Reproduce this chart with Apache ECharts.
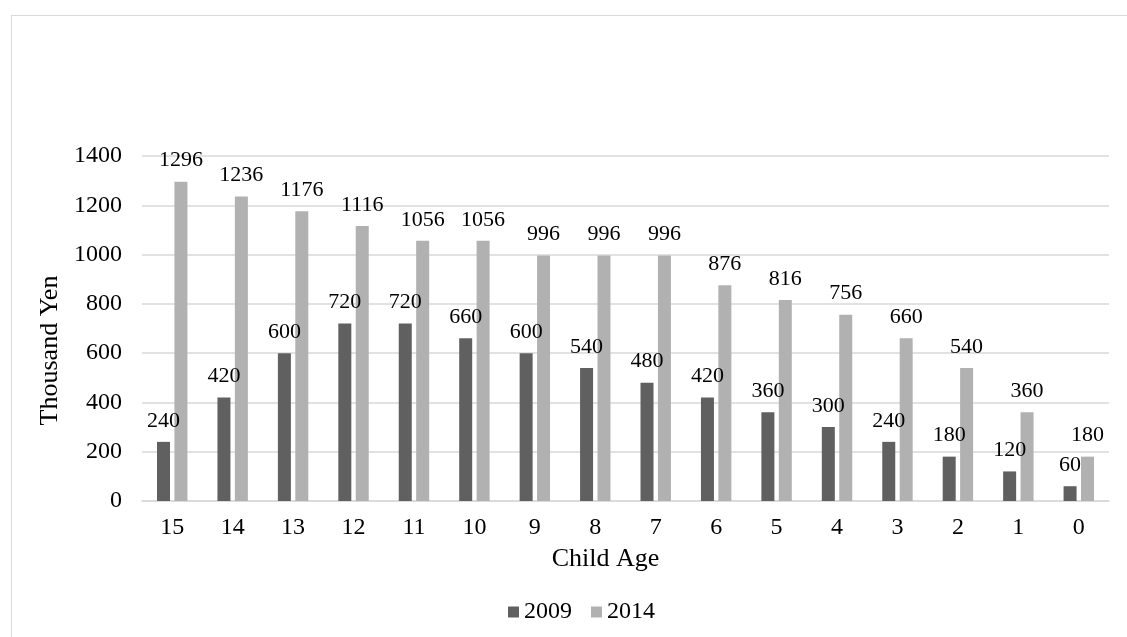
<!DOCTYPE html>
<html>
<head>
<meta charset="utf-8">
<script src="https://cdn.jsdelivr.net/npm/echarts@6/dist/echarts.min.js"></script>
<style>
  html, body { margin: 0; padding: 0; background: #fff; }
  #frame { position: absolute; left: 11px; top: 15px; width: 1130px; height: 640px; border: 1px solid #d9d9d9; box-sizing: border-box; }
  #chart { position: absolute; left: 0; top: 0; width: 1127px; height: 637px; }
</style>
</head>
<body>
<div id="frame"></div>
<div id="chart"></div>
<script>
// Child ages shown from oldest to youngest
const ages = ['15', '14', '13', '12', '11', '10', '9', '8', '7', '6', '5', '4', '3', '2', '1', '0'];
// Cumulative allowance (thousand yen) by year
const values2009 = [240, 420, 600, 720, 720, 660, 600, 540, 480, 420, 360, 300, 240, 180, 120, 60];
const values2014 = [1296, 1236, 1176, 1116, 1056, 1056, 996, 996, 996, 876, 816, 756, 660, 540, 360, 180];
const yTicks = { min: 0, max: 1400, interval: 200 };

const font = '"Liberation Serif", "Times New Roman", serif';
const chart = echarts.init(document.getElementById('chart'), null, { renderer: 'canvas' });

const labelStyle = {
  show: true,
  position: 'top',
  distance: 10,
  fontFamily: font,
  fontSize: 22,
  color: '#000'
};

chart.setOption({
  animation: false,
  textStyle: { fontFamily: font },
  grid: { left: 142, right: 18, top: 156, bottom: 136, containLabel: false },
  legend: {
    data: ['2009', '2014'],
    left: 503,
    top: 595,
    itemWidth: 11,
    itemHeight: 11,
    itemGap: 19,
    icon: 'rect',
    textStyle: { fontFamily: font, fontSize: 24, color: '#000' }
  },
  xAxis: {
    type: 'category',
    data: ages,
    name: 'Child Age',
    nameLocation: 'middle',
    nameGap: 45,
    nameTextStyle: { fontFamily: font, fontSize: 26, color: '#000', padding: [0, 40, 0, 0] },
    axisLine: { lineStyle: { color: '#d9d9d9', width: 1.5 } },
    axisTick: { show: false },
    axisLabel: { fontFamily: font, fontSize: 24, color: '#000', margin: 15 }
  },
  yAxis: {
    type: 'value',
    min: yTicks.min,
    max: yTicks.max,
    interval: yTicks.interval,
    name: 'Thousand Yen',
    nameLocation: 'middle',
    nameGap: 64,
    nameRotate: 90,
    nameTextStyle: { fontFamily: font, fontSize: 26, color: '#000', padding: [0, 44, 0, 0] },
    axisLine: { show: false },
    axisTick: { show: false },
    axisLabel: { fontFamily: font, fontSize: 24, color: '#000', margin: 20, formatter: (v) => String(v) },
    splitLine: { lineStyle: { color: '#d9d9d9', width: 1.5 } }
  },
  series: [
    {
      name: '2009',
      type: 'bar',
      data: values2009,
      barWidth: 13,
      barGap: '34%',
      itemStyle: { color: '#606060' },
      label: labelStyle
    },
    {
      name: '2014',
      type: 'bar',
      data: values2014,
      barWidth: 13,
      itemStyle: { color: '#b1b1b1' },
      label: labelStyle
    }
  ]
});
</script>
</body>
</html>
